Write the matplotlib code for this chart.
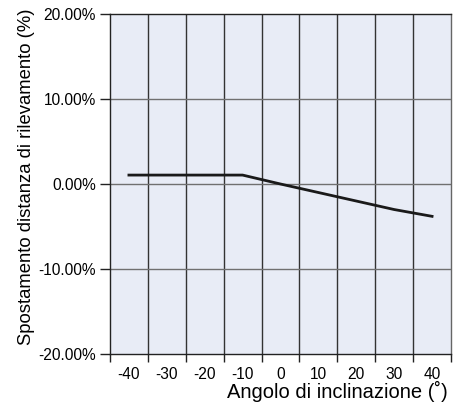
import matplotlib.pyplot as plt
import numpy as np

plt.rcParams['font.family'] = ['Liberation Sans', 'DejaVu Sans']

# tilt angle (deg) vs. shift of detection distance (%)
angle = [-40, -10, 0, 10, 20, 30, 40]
shift = [1.05, 1.05, 0.0, -1.0, -2.0, -3.0, -3.8]

tick_labels = [-40, -30, -20, -10, 0, 10, 20, 30, 40]
y_ticks = [-20, -10, 0, 10, 20]

fig = plt.figure(figsize=(4.64, 4.08), dpi=100)
ax = fig.add_axes([0.237, 0.132, 0.735, 0.834])
ax.set_facecolor('#e8ecf6')

ax.plot(angle, shift, color='#1a1a1a', lw=2.0, zorder=3)

ax.set_xlim(-45, 45)
ax.set_ylim(-20, 20)

# grid lines sit between the labelled angles
ax.set_xticks(np.arange(-45, 46, 10))
ax.set_xticklabels([])
ax.set_xticks(tick_labels, minor=True)
ax.set_xticklabels([str(v) for v in tick_labels], minor=True)
ax.tick_params(axis='x', which='minor', length=0, labelsize=11.2, pad=9)
ax.tick_params(axis='x', which='major', length=6, width=1, color='#222222')

ax.set_yticks(y_ticks)
ax.set_yticklabels(['%.2f%%' % v for v in y_ticks])
ax.tick_params(axis='y', length=7, width=1, labelsize=11.2, color='#222222', pad=3)

for x in np.arange(-35, 45, 10):
    ax.axvline(x, color='#333333', lw=1.0, zorder=1)
for y in [-10, 0, 10]:
    ax.axhline(y, color='#707070', lw=1.0, zorder=1)

for s in ax.spines.values():
    s.set_color('#222222')
    s.set_linewidth(1.0)
ax.spines['right'].set_color('#666666')

fig.text(0.966, 0.014, 'Angolo di inclinazione (˚)', ha='right', va='bottom', fontsize=14.5)
fig.text(0.058, 0.568, 'Spostamento distanza di rilevamento (%)', ha='center', va='center',
         rotation=90, fontsize=13.3)

fig.savefig('out.png', dpi=100)
